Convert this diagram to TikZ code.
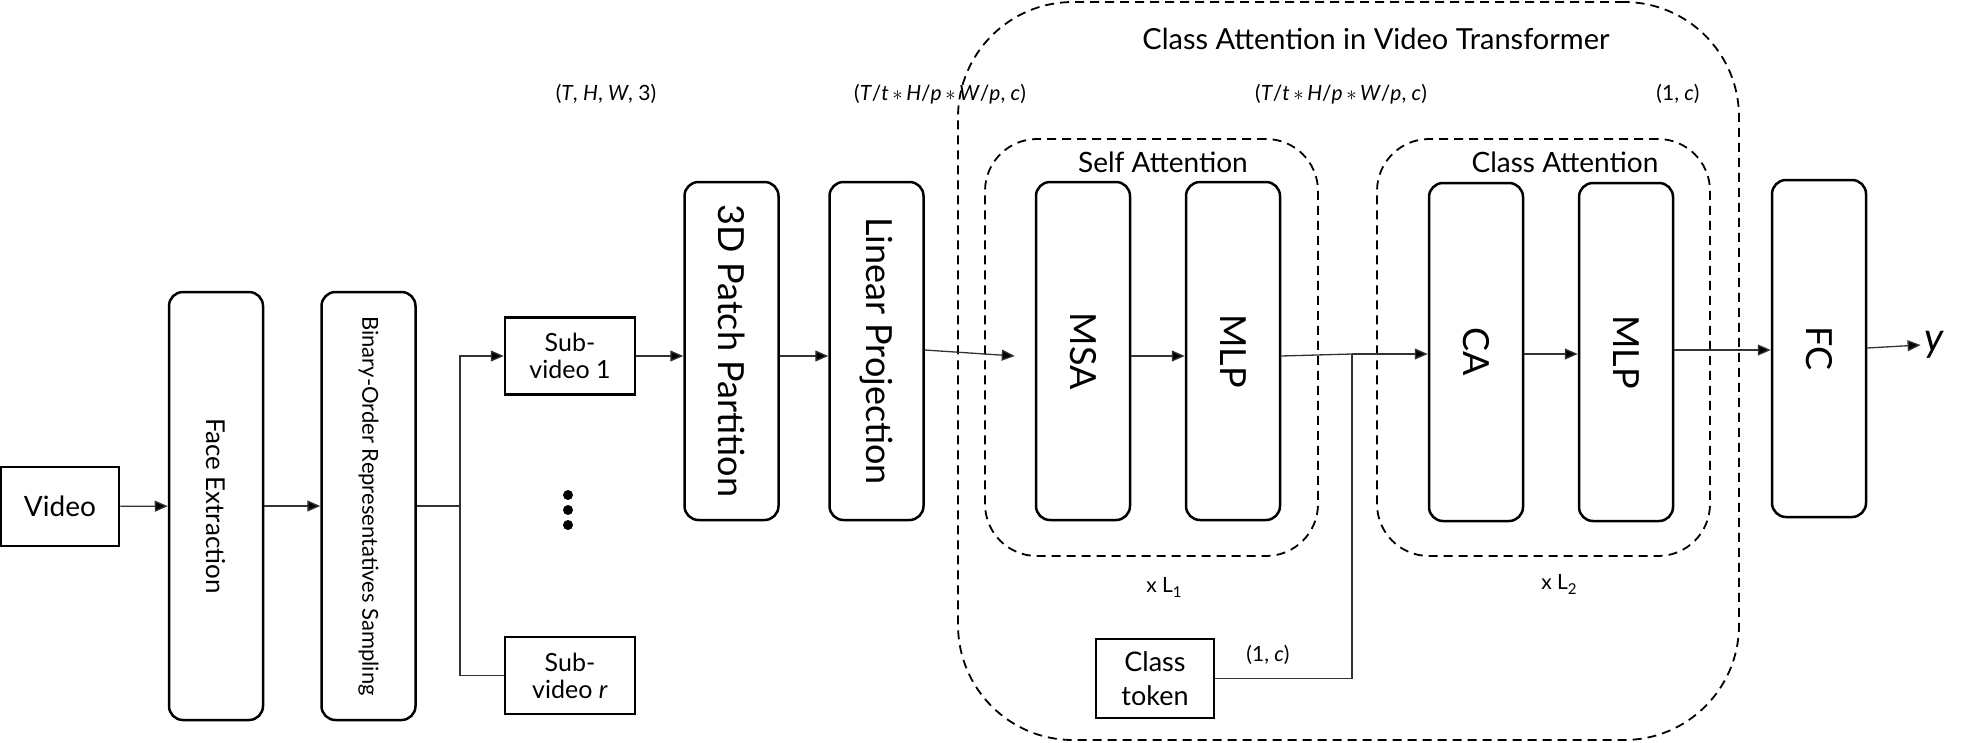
\documentclass[tikz,border=0pt]{standalone}
\usepackage{fontspec}
\setmainfont{Lato}
\usetikzlibrary{arrows.meta}
\newcommand{\fs}[1]{\fontsize{#1}{\dimexpr #1pt*6/5\relax}\selectfont}
\newcommand{\lsub}[1]{\raisebox{-5pt}{\fs{15}#1}}
\begin{document}
\begin{tikzpicture}[x=1pt,y=-1pt,
  procbox/.style={draw, line width=2.5pt, rounded corners=14pt, minimum width=94pt, minimum height=338pt, inner sep=0pt},
  plainbox/.style={draw, line width=2.5pt, inner sep=0pt, align=center},
  groupbox/.style={draw, line width=1.8pt, dash pattern=on 9pt off 6pt, inner sep=0pt},
  conn/.style={line width=1.3pt, draw=black!80},
  arr/.style={conn, -{Triangle[length=13pt,width=11pt,fill=black]}},
  dimlabel/.style={font=\fs{21}},
  grouptitle/.style={font=\fs{28}}
]
\useasboundingbox (0,0) rectangle (1962,742);

% outer and group boxes
\node[groupbox, rounded corners=115pt, minimum width=781pt, minimum height=738pt] (cait) at (1348.5,371) {};
\node[font=\fs{29}] (caittitle) at (1376,39) {Class Attention in Video Transformer};
\node[groupbox, rounded corners=52pt, minimum width=333pt, minimum height=417pt] (sa) at (1151.5,347.5) {};
\node[groupbox, rounded corners=52pt, minimum width=333pt, minimum height=417pt] (ca) at (1543.5,347.5) {};
\node[grouptitle] (satitle) at (1163,162) {Self Attention};
\node[grouptitle] (catitle) at (1565,162) {Class Attention};

% left part
\node[plainbox, minimum width=118pt, minimum height=79pt, font=\fs{28}] (video) at (60,506.5) {Video};
\node[procbox, minimum height=428pt] (face) at (216,506) {\rotatebox{-90}{\fs{26}Face Extraction}};
\node[procbox, minimum height=428pt] (bors) at (368.5,506) {\rotatebox{-90}{\fs{22}Binary-Order Representatives Sampling}};
\coordinate (branch) at (460,506);
\node[plainbox, minimum width=130pt, minimum height=77pt, font=\fs{25}] (sub1) at (570,356) {Sub-\\[-3pt]video 1};
\node[plainbox, minimum width=130pt, minimum height=77pt, font=\fs{25}] (subr) at (570,675.5) {Sub-\\[-3pt]video \textit{r}};
\fill (568,495) circle (5pt) (568,510) circle (5pt) (568,525) circle (5pt);

\node[procbox] (patch) at (731.5,351) {\rotatebox{-90}{\fs{36}3D Patch Partition}};
\node[procbox] (lin) at (876.5,351) {\rotatebox{-90}{\fs{36}Linear Projection}};

% transformer part
\node[procbox] (msa) at (1083,351) {\rotatebox{-90}{\fs{36}MSA}};
\node[procbox] (mlpa) at (1233,351) {\rotatebox{-90}{\fs{36}MLP}};
\node[procbox] (cab) at (1476,352) {\rotatebox{-90}{\fs{36}CA}};
\node[procbox] (mlpb) at (1626,352) {\rotatebox{-90}{\fs{36}MLP}};
\node[procbox, minimum height=337pt] (fc) at (1819,348.5) {\rotatebox{-90}{\fs{36}FC}};
\node[font=\fs{40}] (y) at (1934,345) {\textit{y}};

\node[plainbox, minimum width=118pt, minimum height=79pt, font=\fs{27}] (cls) at (1155,678.5) {Class\\[1pt]token};
\coordinate (join) at (1352,354);

% dimension labels
\node[dimlabel] (d1) at (606,94) {(\textit{T}, \textit{H}, \textit{W}, 3)};
\node[dimlabel] (d2) at (940,94) {(\textit{T}/\textit{t}\,$\ast$\,\textit{H}/\textit{p}\,$\ast$\,\textit{W}/\textit{p}, \textit{c})};
\node[dimlabel] (d3) at (1341,94) {(\textit{T}/\textit{t}\,$\ast$\,\textit{H}/\textit{p}\,$\ast$\,\textit{W}/\textit{p}, \textit{c})};
\node[dimlabel] (d4) at (1678,94) {(1, \textit{c})};
\node[dimlabel] (d5) at (1268,655) {(1, \textit{c})};
\node[dimlabel] (l1) at (1164,587) {x L\lsub{1}};
\node[dimlabel] (l2) at (1559,584) {x L\lsub{2}};

% connectors
\draw[arr] (video) -- (face);
\draw[arr] (face) -- (bors);
\draw[conn] (bors.east) -- (branch);
\draw[arr] (branch) |- (sub1.west);
\draw[conn] (branch) |- (subr.west);
\draw[arr] (sub1) -- (patch.west |- sub1);
\draw[arr] (patch.east |- sub1) -- (lin.west |- sub1);
\draw[arr] (lin.east |- 0,350) -- ([xshift=-20pt]msa.west |- sub1);
\draw[arr] (msa.east |- sub1) -- (mlpa.west |- sub1);
\draw[conn] (mlpa.east |- sub1) -- (join);
\draw[arr] (join) -- (cab.west |- join);
\draw[conn] (cls.east) -| (join);
\draw[arr] (cab.east |- join) -- (mlpb.west |- join);
\draw[arr] (mlpb.east |- 0,350) -- (fc.west |- 0,350);
\draw[arr] (fc.east |- 0,348) -- (y.west);
\end{tikzpicture}
\end{document}
